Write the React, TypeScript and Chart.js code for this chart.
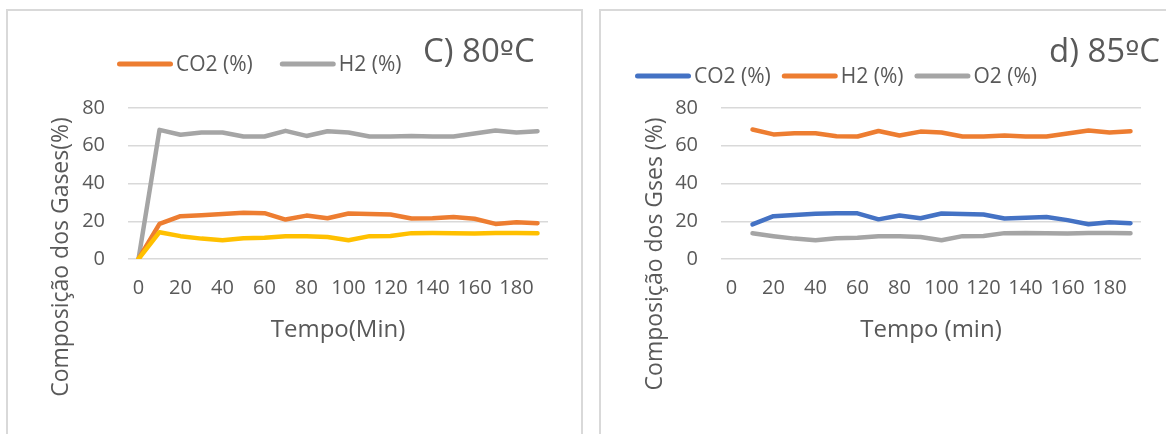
import React, { useEffect, useRef } from "react";
import { Chart, registerables } from "chart.js";

Chart.register(...registerables);

// ---------- data ----------
const timeLabels = ["0", "10", "20", "30", "40", "50", "60", "70", "80", "90", "100", "110", "120", "130", "140", "150", "160", "170", "180", "190"];

// C) 80ºC
const c80CO2 = [0, 18.6, 22.7, 23.2, 23.9, 24.5, 24.3, 20.9, 23.0, 21.6, 24.1, 23.8, 23.6, 21.5, 21.6, 22.2, 21.3, 18.6, 19.5, 19.0];
const c80H2 = [0, 68.4, 65.8, 67.0, 67.0, 64.9, 64.9, 67.9, 65.2, 67.7, 67.0, 64.9, 64.9, 65.2, 64.9, 64.9, 66.5, 68.1, 67.0, 67.7];
const c80O2 = [0, 14.2, 12.1, 10.8, 9.9, 11.0, 11.2, 12.1, 12.1, 11.7, 9.9, 12.1, 12.2, 13.7, 13.8, 13.7, 13.5, 13.8, 13.8, 13.7];

// d) 85ºC
const d85CO2 = [null, 18.3, 22.7, 23.3, 24.0, 24.3, 24.2, 21.0, 23.0, 21.6, 24.1, 23.8, 23.6, 21.5, 21.8, 22.2, 20.6, 18.4, 19.5, 19.0];
const d85H2 = [null, 68.6, 66.0, 66.6, 66.6, 65.0, 64.9, 67.8, 65.4, 67.5, 67.0, 64.9, 64.9, 65.4, 64.9, 64.9, 66.5, 68.1, 67.0, 67.7];
const d85O2 = [null, 13.6, 12.1, 10.8, 9.9, 11.0, 11.2, 12.1, 12.1, 11.7, 9.9, 12.1, 12.2, 13.7, 13.8, 13.6, 13.5, 13.8, 13.8, 13.7];

const yTicks = [0, 20, 40, 60, 80];

// ---------- styles ----------
const ORANGE = "#ED7D31";
const GRAY = "#A5A5A5";
const YELLOW = "#FFC000";
const BLUE = "#4472C4";
const TEXT = "#595959";
const GRID = "#D9D9D9";
const FONT = "'Open Sans', 'DejaVu Sans', sans-serif";
const ORD_FONT = "'DejaVu Sans', 'Liberation Sans', sans-serif";

type LegendEntry = { text: string; color: string };

type Spec = {
  left: number;
  width: number;
  padRight: number;
  title: string;
  titleX: number;
  titleY: number;
  legend: LegendEntry[];
  legendX: number;
  legendY: number;
  legendGap: number;
  yTitle: string;
  yTitleX: number;
  yTitleY: number;
  xTitle: string;
  datasets: any[];
};

function lineDs(label: string, data: (number | null)[], color: string, order: number) {
  return {
    label,
    data,
    borderColor: color,
    backgroundColor: color,
    borderWidth: 4.5,
    pointRadius: 0,
    pointHoverRadius: 0,
    tension: 0,
    borderCapStyle: "round",
    borderJoinStyle: "round",
    spanGaps: false,
    order,
  };
}

const specs: Spec[] = [
  {
    left: 7,
    width: 576,
    padRight: 35,
    title: "C) 80ºC",
    titleX: 416,
    titleY: 62,
    legend: [
      { text: "CO2 (%)", color: ORANGE },
      { text: "H2 (%)", color: GRAY },
    ],
    legendX: 110,
    legendY: 64,
    legendGap: 27,
    yTitle: "Composição dos Gases(%)",
    yTitleX: 61,
    yTitleY: 257,
    xTitle: "Tempo(Min)",
    datasets: [
      lineDs("CO2 (%)", c80CO2, ORANGE, 2),
      lineDs("H2 (%)", c80H2, GRAY, 3),
      lineDs("O2 (%)", c80O2, YELLOW, 1),
    ],
  },
  {
    left: 600,
    width: 566,
    padRight: 25,
    title: "d) 85ºC",
    titleX: 449,
    titleY: 62,
    legend: [
      { text: "CO2 (%)", color: BLUE },
      { text: "H2 (%)", color: ORANGE },
      { text: "O2 (%)", color: GRAY },
    ],
    legendX: 35,
    legendY: 76,
    legendGap: 11,
    yTitle: "Composição dos Gses (%)",
    yTitleX: 62,
    yTitleY: 254,
    xTitle: "Tempo (min)",
    datasets: [
      lineDs("CO2 (%)", d85CO2, BLUE, 3),
      lineDs("H2 (%)", d85H2, ORANGE, 2),
      lineDs("O2 (%)", d85O2, GRAY, 1),
    ],
  },
];

// draws text, using a font with an underlined ordinal glyph for "º"
function drawTitle(ctx: CanvasRenderingContext2D, text: string, x: number, y: number, size: number) {
  const parts = text.split(/(º)/);
  let cx = x;
  for (const p of parts) {
    if (!p) continue;
    ctx.font = p === "º" ? `${size - 3}px ${ORD_FONT}` : `${size}px ${FONT}`;
    ctx.fillText(p, cx, y);
    cx += ctx.measureText(p).width;
  }
}

function overlayPlugin(spec: Spec) {
  return {
    id: "overlayText",
    afterDraw(chart: any) {
      const ctx: CanvasRenderingContext2D = chart.ctx;
      ctx.save();
      // title
      ctx.fillStyle = TEXT;
      ctx.textAlign = "left";
      ctx.textBaseline = "alphabetic";
      drawTitle(ctx, spec.title, spec.titleX, spec.titleY, 33);

      // legend
      ctx.font = `21px ${FONT}`;
      ctx.textBaseline = "middle";
      let x = spec.legendX;
      const lineLen = 56;
      for (const item of spec.legend) {
        ctx.strokeStyle = item.color;
        ctx.lineWidth = 5;
        ctx.lineCap = "round";
        ctx.beginPath();
        ctx.moveTo(x + 2.5, spec.legendY);
        ctx.lineTo(x + lineLen - 2.5, spec.legendY);
        ctx.stroke();
        const tx = x + lineLen + 3;
        ctx.fillStyle = TEXT;
        ctx.fillText(item.text, tx, spec.legendY + 1);
        x = tx + ctx.measureText(item.text).width + spec.legendGap;
      }

      // y-axis title
      ctx.font = `23px ${FONT}`;
      ctx.textAlign = "center";
      ctx.textBaseline = "alphabetic";
      ctx.translate(spec.yTitleX, spec.yTitleY);
      ctx.rotate(-Math.PI / 2);
      ctx.fillText(spec.yTitle, 0, 0);
      ctx.restore();
    },
  };
}

function GasChart({ spec }: { spec: Spec }) {
  const ref = useRef<HTMLCanvasElement | null>(null);
  useEffect(() => {
    if (!ref.current) return;
    const chart = new Chart(ref.current, {
      type: "line",
      data: { labels: timeLabels, datasets: spec.datasets },
      options: {
        animation: false,
        responsive: false,
        devicePixelRatio: 1,
        layout: { padding: { top: 108, bottom: 89, left: 0, right: spec.padRight } },
        plugins: {
          legend: { display: false },
          title: { display: false },
          tooltip: { enabled: false },
        },
        scales: {
          x: {
            type: "category",
            offset: true,
            afterFit: (scale: any) => {
              scale.height = 86;
            },
            grid: { display: false, drawTicks: false },
            border: { display: false },
            ticks: {
              autoSkip: false,
              maxRotation: 0,
              minRotation: 0,
              padding: 17,
              color: TEXT,
              font: { family: FONT, size: 20 },
              callback: function (this: any, value: any, index: number) {
                return index % 2 === 0 ? timeLabels[index] : "";
              },
            },
            title: {
              display: true,
              text: spec.xTitle,
              color: TEXT,
              font: { family: FONT, size: 24 },
              padding: { top: 14, bottom: 0 },
            },
          },
          y: {
            min: yTicks[0],
            max: yTicks[yTicks.length - 1],
            afterBuildTicks: (scale: any) => {
              scale.ticks = yTicks.map((v) => ({ value: v }));
            },
            afterFit: (scale: any) => {
              scale.width = 121;
            },
            grid: { color: GRID, lineWidth: 1.5, drawTicks: false },
            border: { display: false },
            ticks: {
              padding: 23,
              color: TEXT,
              font: { family: FONT, size: 20 },
            },
          },
        },
      } as any,
      plugins: [overlayPlugin(spec) as any],
    });
    let alive = true;
    if ((document as any).fonts && (document as any).fonts.load) {
      Promise.all([
        (document as any).fonts.load(`20px 'Open Sans'`),
        (document as any).fonts.load(`20px 'DejaVu Sans'`),
      ]).then(() => {
        if (alive) chart.update();
      }).catch(() => {});
    }
    return () => {
      alive = false;
      chart.destroy();
    };
  }, [spec]);
  return (
    <canvas
      ref={ref}
      width={spec.width}
      height={434}
      style={{ position: "absolute", left: spec.left, top: 0, width: spec.width, height: 434 }}
    />
  );
}

export default function App() {
  return (
    <div
      style={{
        position: "fixed",
        left: 0,
        top: 0,
        width: 1166,
        height: 434,
        overflow: "hidden",
        background: "#ffffff",
      }}
    >
      <div
        style={{
          position: "absolute",
          left: 6,
          top: 9,
          width: 577,
          height: 440,
          border: `2px solid ${GRID}`,
          boxSizing: "border-box",
        }}
      />
      <div
        style={{
          position: "absolute",
          left: 599,
          top: 9,
          width: 600,
          height: 440,
          border: `2px solid ${GRID}`,
          boxSizing: "border-box",
        }}
      />
      {specs.map((s, i) => (
        <GasChart key={i} spec={s} />
      ))}
    </div>
  );
}
